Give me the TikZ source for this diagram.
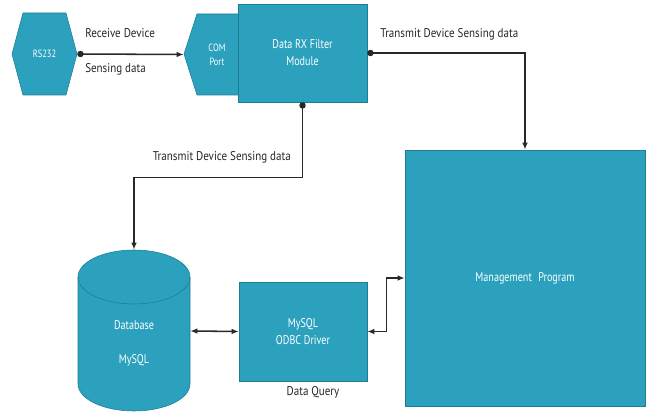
\documentclass[tikz,border=0pt]{standalone}
\usepackage{fontspec}
\setmainfont{PT Sans}[FakeStretch=0.8]
\newfontfamily\lblfont{PT Sans}[FakeStretch=0.87]
\usetikzlibrary{arrows.meta}
\definecolor{boxfill}{RGB}{43,161,190}
\definecolor{boxline}{RGB}{30,125,148}
\definecolor{wirecol}{RGB}{40,40,40}
\tikzset{
  unit/.style={draw=boxline,fill=boxfill,text=white,align=center,
    font=\fontsize{9}{12}\selectfont},
  ghost/.style={inner sep=0pt,text=white,align=center,font=\fontsize{7.5}{10}\selectfont},
  wire/.style={draw=wirecol,line width=1.1pt},
  lbl/.style={inner sep=0pt,text=black!85,font=\lblfont\fontsize{9}{11}\selectfont},
}
\begin{document}
\begin{tikzpicture}[x=0.025cm,y=-0.025cm]
    \useasboundingbox (0,0) rectangle (646,412);
    %% ports
    \draw[unit] (12,54) -- (23,13) -- (66,13) -- (77,54) -- (66,95) -- (23,95) -- cycle;
    \node[ghost,minimum width=1.625cm,minimum height=2.05cm] (rs) at (44.5,54) {RS232};
    \draw[unit] (184,54) -- (197,14) -- (238,14) -- (250,54) -- (238,95) -- (197,95) -- cycle;
    \node[ghost,minimum width=1.65cm,minimum height=2.025cm] (com) at (217,54.5) {COM\\Port};
    %% modules
    \node[unit,minimum width=3.225cm,minimum height=2.45cm] (rx) at (302.5,53) {Data RX Filter\\Module};
    \node[unit,minimum width=6cm,minimum height=6.4cm] (mg) at (525,278) {Management\enspace Program};
    \node[unit,minimum width=3.2cm,minimum height=2.475cm] (odbc) at (303,331.5) {MySQL\\ODBC Driver};
    %% database
    \draw[unit] (78,277) -- (78,384) arc[start angle=180,end angle=0,x radius=56,y radius=27]
        -- (190,277) arc[start angle=0,end angle=-180,x radius=56,y radius=27] -- cycle;
    \draw[draw=boxline] (78,277) arc[start angle=180,end angle=0,x radius=56,y radius=27];
    \node[inner sep=0pt,minimum width=2.8cm,minimum height=4.05cm] (db) at (134,331) {};
    \node[ghost,font=\fontsize{9}{12}\selectfont] (dbtext) at (134,343) {Database\\[12pt]MySQL};
    %% labels
    \node[lbl,anchor=west] (recv) at (85,33) {Receive Device};
    \node[lbl,anchor=west] (sens) at (85,69) {Sensing data};
    \node[lbl,anchor=west] (txtop) at (380,34) {Transmit Device Sensing data};
    \node[lbl,anchor=east] (txleft) at (291,157) {Transmit Device Sensing data};
    \node[lbl] (query) at (313,392) {Data Query};
    %% wires
    \draw[wire,{Circle[length=4.5pt]}-{Latex[length=5pt,width=4pt]}] (rs.east) -- (com.west);
    \draw[wire,{Circle[length=4.5pt]}-{Latex[length=5pt,width=4pt]}] (rx.east) -| (mg.north);
    \draw[wire,{Circle[length=4.5pt]}-{Latex[length=5pt,width=4pt]}] (rx.south) -- ++(0,75) -| (db.north);
    \draw[wire,{Latex[length=5pt,width=4pt]}-{Latex[length=5pt,width=4pt]}] (db.east) -- (odbc.west);
    \draw[wire,{Latex[length=5pt,width=4pt]}-{Latex[length=5pt,width=4pt]}] (odbc.east) -- ++(19,0) |- (mg.west);
\end{tikzpicture}
\end{document}
